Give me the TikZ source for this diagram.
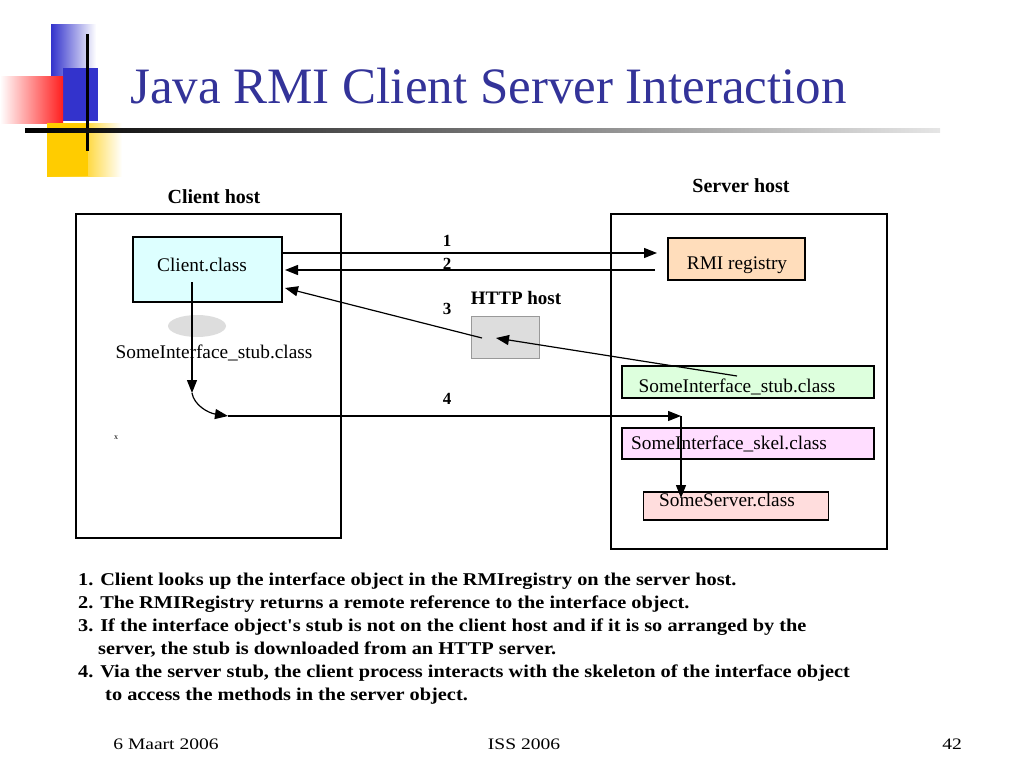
\documentclass[tikz,border=0pt]{standalone}
\usepackage{fontspec}
\setmainfont{Liberation Serif}
\usetikzlibrary{arrows.meta,shapes.geometric}
\definecolor{titleblue}{RGB}{51,51,153}
\definecolor{decoblue}{RGB}{51,51,204}
\definecolor{decored}{RGB}{255,30,30}
\definecolor{decoyellow}{RGB}{255,204,0}
\definecolor{cyanfill}{RGB}{221,255,255}
\definecolor{peachfill}{RGB}{255,221,187}
\definecolor{greenfill}{RGB}{221,255,221}
\definecolor{pinkfill}{RGB}{255,221,255}
\definecolor{rosefill}{RGB}{255,221,221}
\definecolor{grayfill}{RGB}{221,221,221}
\begin{document}
\begin{tikzpicture}[x=1pt,y=-1pt,
  hostbox/.style={draw, line width=1.6pt, inner sep=0pt},
  classbox/.style={draw, line width=1.6pt, inner sep=0pt},
  boxtext/.style={font=\fontsize{19.3}{21}\selectfont, inner sep=0pt},
  hosttitle/.style={font=\fontsize{20}{22}\selectfont\bfseries, inner sep=0pt},
  numlabel/.style={font=\fontsize{17}{19}\selectfont\bfseries, inner sep=0pt},
  conn/.style={line width=1.2pt, -{Triangle[length=13pt,width=10pt]}},
  notes/.style={font=\fontsize{18}{23}\selectfont\bfseries, anchor=base west, inner sep=0pt, xscale=1.13},
  foot/.style={font=\fontsize{16}{18}\selectfont, anchor=base, inner sep=0pt, xscale=1.22}
]
\useasboundingbox (0,0) rectangle (1024,768);
% --- decoration ---
\shade[left color=decoblue, right color=white] (51,25) rectangle (96,78);
\fill[decoblue] (63,68) rectangle (98,121);
\shade[left color=white, right color=decored] (0,76) rectangle (63,123);
\shade[left color=decoyellow, right color=white, middle color=decoyellow!80] (47,123) rectangle (122,176);
\fill[decoyellow] (47,123) rectangle (88,176);
\draw[line width=3pt] (87,34) -- (87,151);
\shade[left color=black, right color=black!10] (25,128) rectangle (940,132);
% --- title ---
\node[anchor=base west, inner sep=0pt, text=titleblue, font=\fontsize{51}{55}\selectfont] (title) at (130,103) {Java RMI Client Server Interaction};
% --- hosts ---
\node[hosttitle] (clienthostlbl) at (214,197) {Client host};
\node[hosttitle] (serverhostlbl) at (741,186) {Server host};
\node[hostbox, minimum width=265pt, minimum height=324pt] (clienthost) at (208.5,376) {};
\node[hostbox, minimum width=276pt, minimum height=335pt] (serverhost) at (749,381.5) {};
% --- client side ---
\node[classbox, fill=cyanfill, minimum width=149pt, minimum height=65pt] (client) at (207.5,269.5) {};
\node[boxtext] (clienttxt) at (202,265) {Client.class};
\node[ellipse, fill=grayfill, minimum width=58pt, minimum height=22pt, inner sep=0pt] (stubellipse) at (197,326) {};
\node[boxtext] (clientstub) at (214,353) {SomeInterface\_stub.class};
\node[inner sep=0pt, font=\fontsize{8}{9}\selectfont] (xmark) at (116,438) {x};
% --- HTTP host ---
\node[font=\fontsize{19}{21}\selectfont\bfseries, inner sep=0pt] (httplbl) at (516,298) {HTTP host};
\node[draw=black!40, fill=grayfill, line width=0.8pt, minimum width=68pt, minimum height=42pt, inner sep=0pt] (http) at (505,337) {};
% --- server side ---
\node[classbox, fill=peachfill, minimum width=137pt, minimum height=42pt] (rmi) at (736.5,259) {};
\node[boxtext] (rmitxt) at (737,265) {RMI registry};
\node[classbox, fill=greenfill, minimum width=252pt, minimum height=32pt] (sstub) at (748,382) {};
\node[boxtext] (sstubtxt) at (737,387) {SomeInterface\_stub.class};
\node[classbox, fill=pinkfill, minimum width=252pt, minimum height=31pt] (skel) at (748,443.5) {};
\node[boxtext] (skeltxt) at (729,444) {SomeInterface\_skel.class};
\node[classbox, fill=rosefill, minimum width=185pt, minimum height=28pt] (server) at (736,506) {};
\node[boxtext] (servertxt) at (727,500) {SomeServer.class};
% --- connectors ---
\coordinate (a1s) at (283,253);
\coordinate (a1e) at (657,253);
\draw[conn] (a1s) -- (a1e);
\coordinate (a2s) at (655,270);
\coordinate (a2e) at (285,270);
\draw[conn] (a2s) -- (a2e);
\node[numlabel] (n1) at (447,241) {1};
\node[numlabel] (n2) at (447,264) {2};
\coordinate (a3s) at (737,376);
\coordinate (a3m) at (496,338);
\coordinate (a3m2) at (482,338);
\coordinate (a3e) at (285,288);
\draw[conn] (a3s) -- (a3m);
\draw[conn] (a3m2) -- (a3e);
\node[numlabel] (n3) at (447,309) {3};
\coordinate (a4s) at (192,282);
\coordinate (a4b) at (192,393);
\coordinate (a4c) at (228,416);
\coordinate (a4d) at (681,416);
\coordinate (a4e) at (681,498);
\draw[conn] (a4s) -- (a4b);
\draw[conn] (a4b) .. controls (194,405) and (208,413) .. (a4c);
\draw[conn] (a4c) -- (a4d);
\draw[conn] (a4d) -- (a4e);
\node[numlabel] (n4) at (447,399) {4};
% --- notes ---
\node[notes] (l1) at (78,585) {1. Client looks up the interface object in the RMIregistry on the server host.};
\node[notes] (l2) at (78,608) {2. The RMIRegistry returns a remote reference to the interface object.};
\node[notes] (l3) at (78,631) {3. If the interface object\textquotesingle s stub is not on the client host and if it is so arranged by the};
\node[notes] (l3b) at (98,654) {server, the stub is downloaded from an HTTP server.};
\node[notes] (l4) at (78,677) {4. Via the server stub, the client process interacts with the skeleton of the interface object};
\node[notes] (l4b) at (105,700) {to access the methods in the server object.};
% --- footer ---
\node[foot] (f1) at (166,749) {6 Maart 2006};
\node[foot] (f2) at (524,749) {ISS 2006};
\node[foot] (f3) at (952,749) {42};
\end{tikzpicture}
\end{document}
